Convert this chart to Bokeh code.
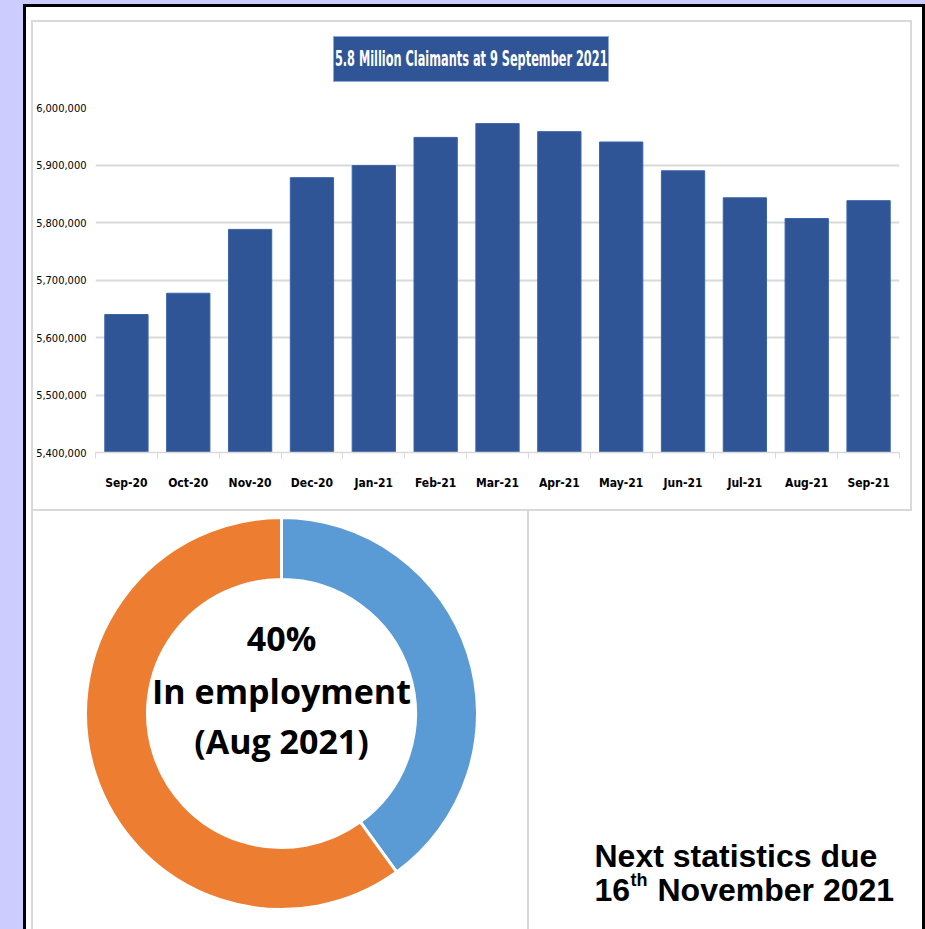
import math
from bokeh.plotting import figure
from bokeh.layouts import column, row
from bokeh.models import (Div, Spacer, Range1d, FixedTicker, NumeralTickFormatter)
from bokeh.core.properties import value
from bokeh.embed import file_html
from bokeh.resources import INLINE

# ---------------- data ----------------
months = ["Sep-20", "Oct-20", "Nov-20", "Dec-20", "Jan-21", "Feb-21", "Mar-21",
          "Apr-21", "May-21", "Jun-21", "Jul-21", "Aug-21", "Sep-21"]
claimants = [5640000, 5677000, 5788000, 5878000, 5899000, 5948000, 5972000,
             5958000, 5940000, 5890000, 5843000, 5807000, 5838000]
y_ticks = [5400000, 5500000, 5600000, 5700000, 5800000, 5900000, 6000000]
chart_title = "5.8 Million Claimants at 9 September 2021"

donut_labels = ["In employment", "Not in employment"]
donut_shares = [40, 60]
donut_colors = ["#5B9BD5", "#ED7D31"]
donut_text = ["40%", "In employment", "(Aug 2021)"]

note_line1 = "Next statistics due"
note_day, note_sup, note_rest = "16", "th", "November 2021"

# ---------------- styles ----------------
LAV = "#CCCCFF"
GREY = "#D9D9D9"
BAR = "#2F5597"
NARROW = "Liberation Sans Narrow, DejaVu Sans Condensed, Roboto, sans-serif"


def box(w, h, color):
    return Div(width=w, height=h, margin=0, text="",
               styles={"background-color": color, "padding": "0px"})


# ---------------- title box ----------------
title_html = (
    f'<div style="width:276px;height:46px;display:flex;align-items:center;'
    f'justify-content:center;background:{BAR};box-shadow:inset 0 0 0 1px #8FAADC;'
    f'overflow:hidden;box-sizing:border-box;">'
    f'<span style="display:inline-block;white-space:nowrap;transform:scaleX(0.6);'
    f"color:white;font-family:'DejaVu Sans Condensed','DejaVu Sans',sans-serif;"
    f'font-weight:bold;font-size:21px;">{chart_title}</span></div>'
)
title_div = Div(text=title_html, width=276, height=46, margin=0)

# ---------------- bar chart ----------------
n = len(months)
xs = [i + 0.5 for i in range(n)]
p_bar = figure(width=877, height=427, output_backend="svg", toolbar_location=None,
               x_range=Range1d(0, n), y_range=Range1d(y_ticks[0], y_ticks[-1]),
               min_border_left=60, min_border_right=11, min_border_top=25,
               min_border_bottom=57)
p_bar.vbar(x=xs, top=claimants, bottom=y_ticks[0], width=0.7,
           fill_color=BAR, line_color="#3B64A8", line_width=1)
p_bar.outline_line_color = None
p_bar.background_fill_color = "white"
p_bar.border_fill_color = "white"
p_bar.xgrid.grid_line_color = None
p_bar.ygrid.grid_line_color = GREY
p_bar.ygrid.grid_line_width = 2
p_bar.yaxis.ticker = FixedTicker(ticks=y_ticks)
p_bar.yaxis.formatter = NumeralTickFormatter(format="0,0")
p_bar.yaxis.axis_line_color = None
p_bar.yaxis.major_tick_line_color = None
p_bar.yaxis.minor_tick_line_color = None
p_bar.yaxis.major_tick_out = 0
p_bar.yaxis.major_tick_in = 0
p_bar.yaxis.minor_tick_out = 0
p_bar.yaxis.major_label_standoff = 9
p_bar.yaxis.major_label_text_font = NARROW
p_bar.yaxis.major_label_text_font_size = "11px"
p_bar.yaxis.major_label_text_color = "black"

p_bar.xaxis.ticker = FixedTicker(ticks=xs, minor_ticks=list(range(n + 1)))
p_bar.xaxis.major_label_overrides = {x: m for x, m in zip(xs, months)}
p_bar.xaxis.axis_line_color = GREY
p_bar.xaxis.axis_line_width = 1.5
p_bar.xaxis.major_tick_line_color = None
p_bar.xaxis.minor_tick_line_color = GREY
p_bar.xaxis.minor_tick_out = 6
p_bar.xaxis.minor_tick_in = 0
p_bar.xaxis.major_label_standoff = 17
p_bar.xaxis.major_label_text_font = NARROW
p_bar.xaxis.major_label_text_font_style = "bold"
p_bar.xaxis.major_label_text_font_size = "12px"
p_bar.xaxis.major_label_text_color = "black"

bar_panel = column(
    Spacer(width=877, height=14),
    row(Spacer(width=300, height=46), title_div, spacing=0),
    p_bar,
    spacing=0,
)

# ---------------- donut ----------------
p_donut = figure(width=494, height=418, output_backend="svg", toolbar_location=None,
                 x_range=Range1d(0, 494), y_range=Range1d(0, 418),
                 min_border=0, min_border_left=0, min_border_right=0,
                 min_border_top=0, min_border_bottom=0)
p_donut.axis.visible = False
p_donut.grid.visible = False
p_donut.outline_line_color = None
total = sum(donut_shares)
ends, starts = [], []
acc = 0
for s in donut_shares:
    end = math.pi / 2 - 2 * math.pi * acc / total
    acc += s
    start = math.pi / 2 - 2 * math.pi * acc / total
    starts.append(start)
    ends.append(end)
p_donut.annular_wedge(x=248, y=216, inner_radius=134, outer_radius=196,
                      start_angle=starts, end_angle=ends, direction="anticlock",
                      fill_color=donut_colors, line_color="white", line_width=3)
p_donut.text(x=[248, 248, 248], y=[292, 239, 189], text=donut_text,
             text_align="center", text_baseline="middle",
             text_font=value("Open Sans"), text_font_style="bold",
             text_font_size="34px", text_color="black")

# ---------------- note panel ----------------
p_text = figure(width=393, height=418, output_backend="svg", toolbar_location=None,
                x_range=Range1d(0, 393), y_range=Range1d(0, 418),
                min_border=0, min_border_left=0, min_border_right=0,
                min_border_top=0, min_border_bottom=0)
p_text.axis.visible = False
p_text.grid.visible = False
p_text.outline_line_color = None
common = dict(text_font=value("Liberation Sans"), text_font_style="bold",
              text_color="black", text_baseline="alphabetic", text_align="left")
p_text.text(x=[65], y=[74], text=[note_line1], text_font_size="32px", **common)
p_text.text(x=[65], y=[40], text=[note_day], text_font_size="32px", **common)
p_text.text(x=[101], y=[50], text=[note_sup], text_font_size="18px", **common)
p_text.text(x=[128], y=[40], text=[note_rest], text_font_size="32px", **common)

# ---------------- page layout ----------------
content = column(
    Spacer(width=896, height=13),
    row(Spacer(width=5, height=2), box(881, 2, GREY)),
    row(Spacer(width=5, height=487), box(2, 487, GREY), bar_panel, box(2, 487, GREY)),
    row(Spacer(width=5, height=2), box(881, 2, GREY)),
    row(Spacer(width=5, height=418), box(2, 418, GREY), p_donut, box(2, 418, GREY), p_text),
    spacing=0,
)
right_part = column(
    box(902, 4, LAV),
    box(902, 3, "black"),
    row(box(3, 922, "black"), content, box(3, 922, "black"), spacing=0),
    spacing=0,
)
page = row(box(23, 929, LAV), right_part, spacing=0)

open("out.html", "w").write(file_html(page, INLINE))
